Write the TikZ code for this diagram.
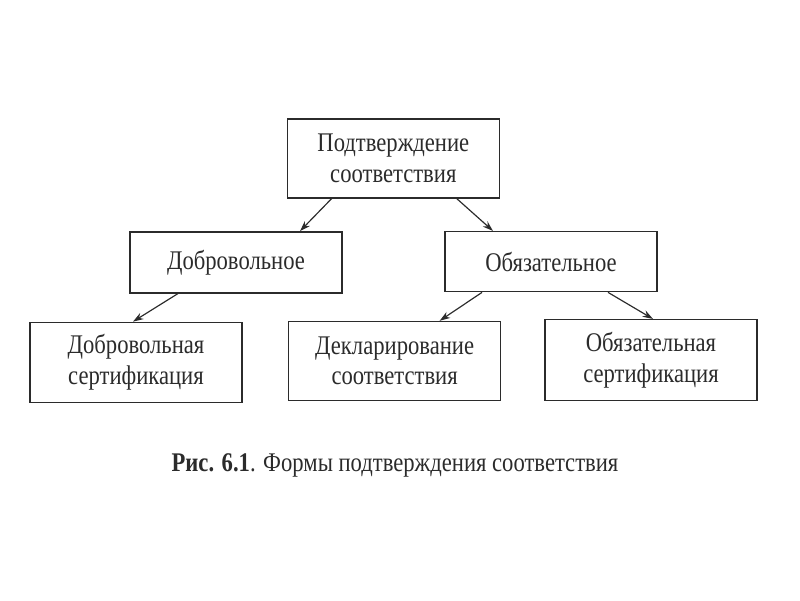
\documentclass[tikz,border=0pt]{standalone}
\usepackage{fontspec}
\setmainfont[FakeStretch=0.84]{Liberation Serif}
\usetikzlibrary{arrows.meta}

\definecolor{inkgray}{HTML}{2B2B2B}

\begin{document}
\begin{tikzpicture}[>={Stealth[length=9pt,width=6pt]}, line width=1pt, draw=inkgray, text=inkgray]
            \useasboundingbox (0,0) rectangle (24,18);
            \begin{scope}[every node/.style={rectangle, draw, line width=1.2pt, minimum width=6.36cm, align=center, font=\fontsize{23}{26}\selectfont}]

                \node[minimum height=2.37cm] (confirm) at (11.8,13.25) {Подтверждение\\соответствия};
                \node[minimum height=1.83cm] (volun) at (7.08,10.13) {Добровольное};
                \node[minimum height=1.80cm] (oblig) at (16.53,10.15) {Обязательное};
                \node[minimum height=2.40cm] (volcert) at (4.08,7.13) {Добровольная\\сертификация};
                \node[minimum height=2.37cm] (declar) at (11.84,7.17) {Декларирование\\соответствия};
                \node[minimum height=2.42cm] (oblcert) at (19.53,7.2) {Обязательная\\сертификация};

                \path[->] ([xshift=-1.85cm]confirm.south) edge ([xshift=1.92cm]volun.north);
                \path[->] ([xshift=1.9cm]confirm.south) edge ([xshift=-1.74cm]oblig.north);
                \path[->] ([xshift=-1.74cm]volun.south) edge ([xshift=-0.09cm]volcert.north);
                \path[->] ([xshift=-2.07cm]oblig.south) edge ([xshift=1.35cm]declar.north);
                \path[->] ([xshift=1.71cm]oblig.south) edge ([xshift=0.06cm]oblcert.north);
            \end{scope}
            \node[font=\fontsize{23}{26}\selectfont] (caption) at (11.85,4.05) {\textbf{Рис. 6.1}. Формы подтверждения соответствия};
        \end{tikzpicture}
\end{document}
